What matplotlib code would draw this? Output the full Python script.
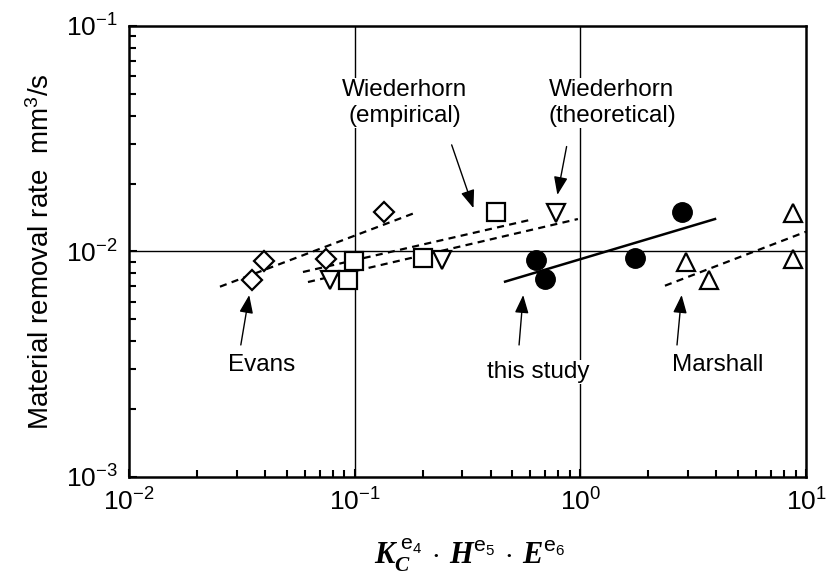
import numpy as np
import matplotlib
matplotlib.use("Agg")
import matplotlib.pyplot as plt
from matplotlib.ticker import LogLocator, FixedLocator, NullFormatter

plt.rcParams["font.family"] = ["Liberation Sans", "DejaVu Sans"]
plt.rcParams["mathtext.fontset"] = "custom"
plt.rcParams["mathtext.rm"] = "Liberation Sans"
plt.rcParams["mathtext.sf"] = "Liberation Sans"
plt.rcParams["mathtext.it"] = "Liberation Sans:italic"
plt.rcParams["mathtext.bf"] = "Liberation Serif:italic:bold"

# --- data ---
# Evans (open diamonds)
evans_x = [0.0351, 0.0397, 0.0746, 0.135]
evans_y = [0.00748, 0.00908, 0.00927, 0.01496]
evans_fit_x = [0.0253, 0.188]
evans_fit_y = [0.00698, 0.01493]

# Wiederhorn empirical (open squares)
wemp_x = [0.0933, 0.0993, 0.201, 0.422]
wemp_y = [0.00748, 0.00908, 0.00931, 0.0149]
wemp_fit_x = [0.0590, 0.598]
wemp_fit_y = [0.00811, 0.0138]

# Wiederhorn theoretical (open down triangles)
wth_x = [0.0778, 0.244, 0.780]
wth_y = [0.00748, 0.00916, 0.01476]
wth_fit_x = [0.0621, 0.975]
wth_fit_y = [0.00732, 0.01393]

# this study (filled circles)
study_x = [0.635, 0.697, 1.746, 2.81]
study_y = [0.00916, 0.00753, 0.00933, 0.01503]
study_fit_x = [0.464, 3.95]
study_fit_y = [0.00735, 0.01393]

# Marshall (open up triangles)
marsh_x = [2.94, 3.73, 8.73, 8.73]
marsh_y = [0.00902, 0.00748, 0.01476, 0.00923]
marsh_fit_x = [2.37, 10.0]
marsh_fit_y = [0.00705, 0.01224]

fig = plt.figure(figsize=(8.31, 5.76), dpi=100)
ax = fig.add_axes([0.1552, 0.1719, 0.8148, 0.7830])
ax.set_xscale("log")
ax.set_yscale("log")
ax.set_xlim(1e-2, 1e1)
ax.set_ylim(1e-3, 1e-1)

# grid lines only at inner decades
for gx in [1e-1, 1e0]:
    ax.axvline(gx, color="black", lw=1.0, zorder=1)
ax.axhline(1e-2, color="black", lw=1.0, zorder=1)

dash = (0, (3.2, 2.4))
ax.plot(evans_fit_x, evans_fit_y, color="black", lw=1.6, ls=dash, zorder=2)
ax.plot(wemp_fit_x, wemp_fit_y, color="black", lw=1.6, ls=dash, zorder=2)
ax.plot(wth_fit_x, wth_fit_y, color="black", lw=1.6, ls=dash, zorder=2)
ax.plot(marsh_fit_x, marsh_fit_y, color="black", lw=1.6, ls=dash, zorder=2)
ax.plot(study_fit_x, study_fit_y, color="black", lw=1.8, zorder=2)

ax.plot(evans_x, evans_y, "D", ms=10, mfc="white", mec="black", mew=1.6, ls="none", zorder=3)
ax.plot(wemp_x, wemp_y, "s", ms=12.5, mfc="white", mec="black", mew=1.6, ls="none", zorder=3)
ax.plot(wth_x, wth_y, "v", ms=12.5, mfc="white", mec="black", mew=1.6, ls="none", zorder=3)
ax.plot(marsh_x, marsh_y, "^", ms=12.5, mfc="white", mec="black", mew=1.6, ls="none", zorder=3)
ax.plot(study_x, study_y, "o", ms=14, mfc="black", mec="black", ls="none", zorder=3)

# labels with arrows
arw = dict(arrowstyle="-|>,head_length=1.1,head_width=0.42", color="black", lw=1.0,
           shrinkA=0, shrinkB=0)
fs = 17.5
box = dict(facecolor="white", edgecolor="none", pad=1)
ax.annotate("", xy=(0.0341, 0.00641), xytext=(0.0313, 0.00385), arrowprops=arw)
ax.text(0.0388, 0.00314, "Evans", fontsize=fs, ha="center", va="center", bbox=box)
ax.annotate("", xy=(0.336, 0.01556), xytext=(0.269, 0.0297), arrowprops=arw)
ax.text(0.167, 0.0456, "Wiederhorn\n(empirical)", fontsize=fs, ha="center", va="center",
        linespacing=1.2, bbox=box, zorder=4)
ax.annotate("", xy=(0.791, 0.01782), xytext=(0.869, 0.0292), arrowprops=arw)
ax.text(1.38, 0.0456, "Wiederhorn\n(theoretical)", fontsize=fs, ha="center", va="center",
        linespacing=1.2, bbox=box, zorder=4)
ax.annotate("", xy=(0.558, 0.00641), xytext=(0.535, 0.00385), arrowprops=arw)
ax.text(0.649, 0.00292, "this study", fontsize=fs, ha="center", va="center", bbox=box)
ax.annotate("", xy=(2.81, 0.00641), xytext=(2.68, 0.00385), arrowprops=arw)
ax.text(4.07, 0.00314, "Marshall", fontsize=fs, ha="center", va="center", bbox=box)

# ticks
for s in ax.spines.values():
    s.set_linewidth(1.8)
    s.set_zorder(5)
ax.xaxis.set_major_locator(FixedLocator([1e-2, 1e-1, 1e0, 1e1]))
ax.yaxis.set_major_locator(FixedLocator([1e-3, 1e-2, 1e-1]))
ax.xaxis.set_minor_locator(LogLocator(base=10, subs=np.arange(2, 10)))
ax.yaxis.set_minor_locator(LogLocator(base=10, subs=np.arange(2, 10)))
ax.xaxis.set_minor_formatter(NullFormatter())
ax.yaxis.set_minor_formatter(NullFormatter())
ax.set_xticklabels(["10$^{-2}$", "10$^{-1}$", "10$^{0}$", "10$^{1}$"])
ax.set_yticklabels(["10$^{-3}$", "10$^{-2}$", "10$^{-1}$"])
ax.tick_params(which="both", direction="in", width=1.5, labelsize=19,
               top=False, right=False)
ax.tick_params(which="major", length=6, pad=8)
ax.tick_params(which="minor", length=5)

ax.set_ylabel("Material removal rate  mm$^3$/s", fontsize=20, labelpad=8)
fig.text(0.565, 0.036,
         r"$\mathbf{K}_{\mathbf{C}}^{\ \mathsf{e}_{\mathsf{4}}}\,\cdot\,\mathbf{H}^{\mathsf{e}_{\mathsf{5}}}\,\cdot\,\mathbf{E}^{\mathsf{e}_{\mathsf{6}}}$",
         fontsize=22, ha="center", va="center")

fig.savefig("out.png", dpi=100)
